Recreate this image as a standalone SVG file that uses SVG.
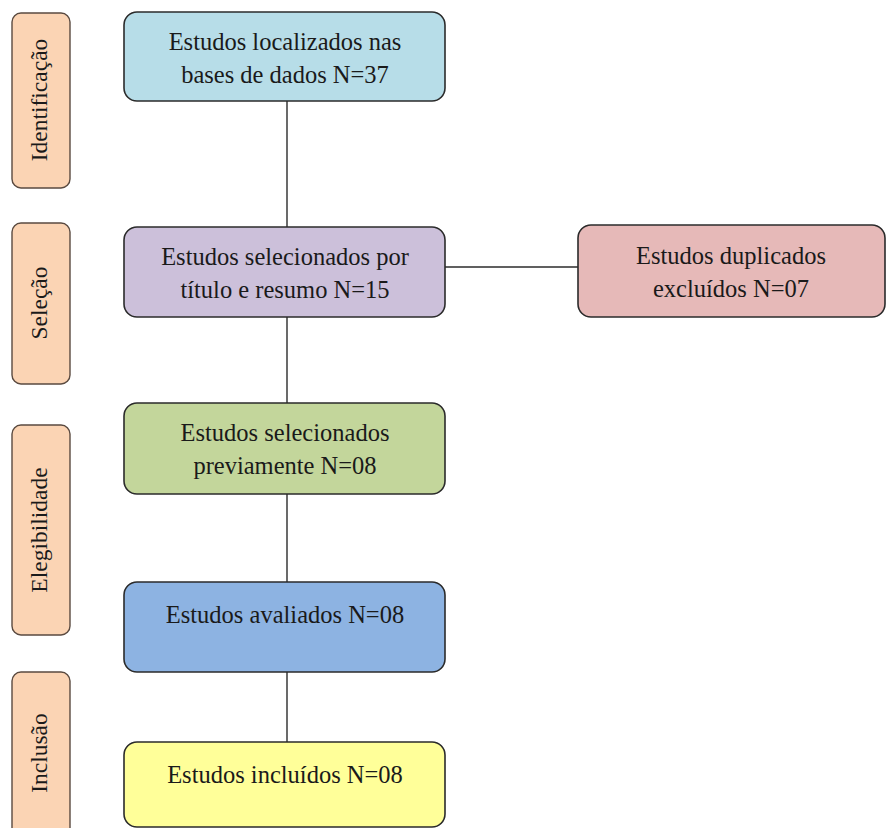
<svg xmlns="http://www.w3.org/2000/svg" width="887" height="828" viewBox="0 0 887 828">
<style>
.box{stroke:#2b2b2b;stroke-width:1.6}
.tab{fill:#fbd4b4;stroke:#5a4a40;stroke-width:1.4}
.t{font-family:"Liberation Serif","Times New Roman",serif;font-size:24.5px;fill:#1a1a1a;text-anchor:middle}
.tt{font-family:"Liberation Serif","Times New Roman",serif;font-size:23.5px;fill:#1a1a1a;text-anchor:middle}
.c{stroke:#2b2b2b;stroke-width:1.4;fill:none}
</style>
<rect width="887" height="828" fill="#ffffff"/>
<g id="connectors">
<line class="c" x1="287" y1="101" x2="287" y2="227"/>
<line class="c" x1="287" y1="317" x2="287" y2="403"/>
<line class="c" x1="287" y1="494" x2="287" y2="582"/>
<line class="c" x1="287" y1="672" x2="287" y2="742"/>
<line class="c" x1="445" y1="267" x2="578" y2="267"/>
</g>
<g id="tab-identificacao">
<rect class="tab" x="12" y="13" width="58" height="175" rx="9"/>
<text class="tt" transform="translate(47,100) rotate(-90)">Identificação</text>
</g>
<g id="tab-selecao">
<rect class="tab" x="12" y="223" width="58" height="161" rx="9"/>
<text class="tt" transform="translate(47,303) rotate(-90)">Seleção</text>
</g>
<g id="tab-elegibilidade">
<rect class="tab" x="12" y="425" width="58" height="210" rx="9"/>
<text class="tt" transform="translate(47,530) rotate(-90)">Elegibilidade</text>
</g>
<g id="tab-inclusao">
<rect class="tab" x="12" y="672" width="58" height="170" rx="9"/>
<text class="tt" transform="translate(47,753) rotate(-90)">Inclusão</text>
</g>
<g id="n1">
<rect class="box" x="124" y="12" width="321" height="89" rx="13" fill="#b7dde8"/>
<text class="t" x="285" y="50">Estudos localizados nas</text>
<text class="t" x="285" y="83">bases de dados N=37</text>
</g>
<g id="n2">
<rect class="box" x="124" y="227" width="321" height="90" rx="13" fill="#ccc0da"/>
<text class="t" x="285" y="265">Estudos selecionados por</text>
<text class="t" x="285" y="298">título e resumo N=15</text>
</g>
<g id="n-dup">
<rect class="box" x="578" y="225" width="307" height="92" rx="13" fill="#e6b9b8"/>
<text class="t" x="731" y="264">Estudos duplicados</text>
<text class="t" x="731" y="297">excluídos N=07</text>
</g>
<g id="n3">
<rect class="box" x="124" y="403" width="321" height="91" rx="13" fill="#c3d69b"/>
<text class="t" x="285" y="441">Estudos selecionados</text>
<text class="t" x="285" y="474">previamente N=08</text>
</g>
<g id="n4">
<rect class="box" x="124" y="582" width="321" height="90" rx="13" fill="#8db3e2"/>
<text class="t" x="285" y="623">Estudos avaliados N=08</text>
</g>
<g id="n5">
<rect class="box" x="124" y="742" width="321" height="85" rx="13" fill="#ffff99"/>
<text class="t" x="285" y="783">Estudos incluídos N=08</text>
</g>
</svg>
